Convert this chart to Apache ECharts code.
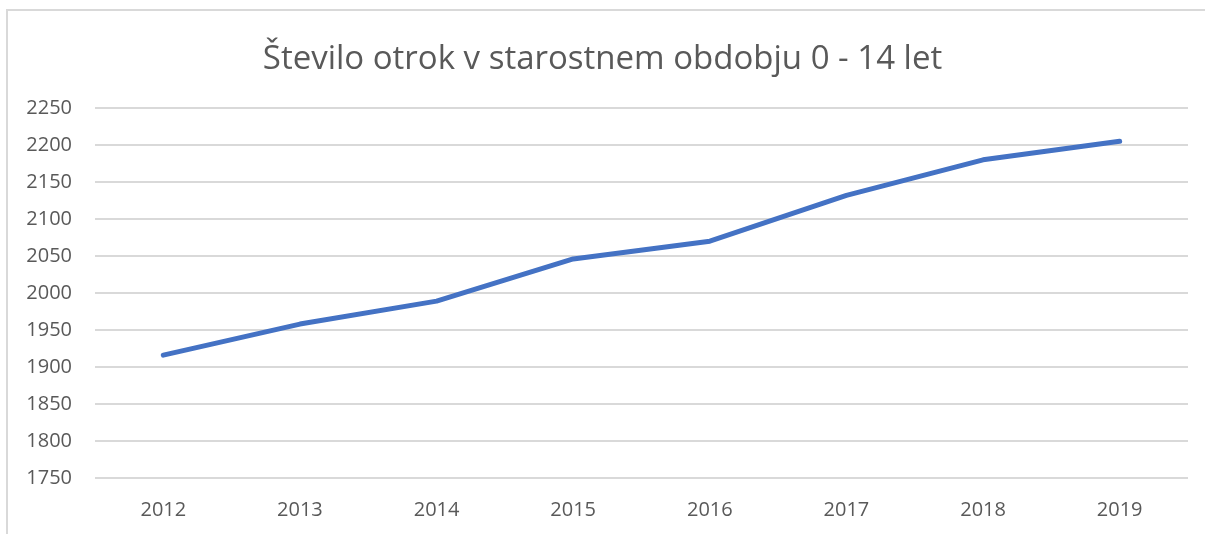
<!DOCTYPE html>
<html>
<head>
<meta charset="utf-8">
<script src="https://cdn.jsdelivr.net/npm/echarts@6/dist/echarts.min.js"></script>
<style>
  html, body { margin: 0; padding: 0; background: #fff; overflow: hidden; }
  #frame {
    position: absolute; left: 6px; top: 9px; width: 1240px; height: 600px;
    border: 2px solid #d9d9d9; box-sizing: border-box;
  }
  #chart { position: absolute; left: 0; top: 0; width: 1205px; height: 534px; }
</style>
</head>
<body>
<div id="frame"></div>
<div id="chart"></div>
<script>
const titleText = "Število otrok v starostnem obdobju 0 - 14 let";
const years = ["2012", "2013", "2014", "2015", "2016", "2017", "2018", "2019"];
const children = [1916, 1958, 1989, 2046, 2070, 2132, 2180, 2205];
const yMin = 1750;
const yMax = 2250;
const yStep = 50;

const chart = echarts.init(document.getElementById("chart"));
chart.setOption({
  animation: false,
  title: {
    text: titleText,
    left: "center",
    top: 38,
    textStyle: {
      fontFamily: "Open Sans",
      fontSize: 33,
      fontWeight: "normal",
      color: "#595959",
    },
  },
  grid: { left: 95, right: 17, top: 108, bottom: 56 },
  xAxis: {
    type: "category",
    data: years,
    boundaryGap: true,
    axisLine: { show: false },
    axisTick: { show: false },
    axisLabel: {
      margin: 22,
      fontFamily: "Open Sans",
      fontSize: 20,
      color: "#595959",
    },
  },
  yAxis: {
    type: "value",
    min: yMin,
    max: yMax,
    interval: yStep,
    axisLine: { show: false },
    axisTick: { show: false },
    axisLabel: {
      margin: 23,
      fontFamily: "Open Sans",
      fontSize: 20,
      color: "#595959",
      formatter: (v) => String(v),
    },
    splitLine: { lineStyle: { color: "#d9d9d9", width: 2 } },
  },
  series: [
    {
      type: "line",
      data: children,
      symbol: "none",
      lineStyle: { color: "#4472c4", width: 5, cap: "round", join: "round" },
    },
  ],
});
</script>
</body>
</html>
